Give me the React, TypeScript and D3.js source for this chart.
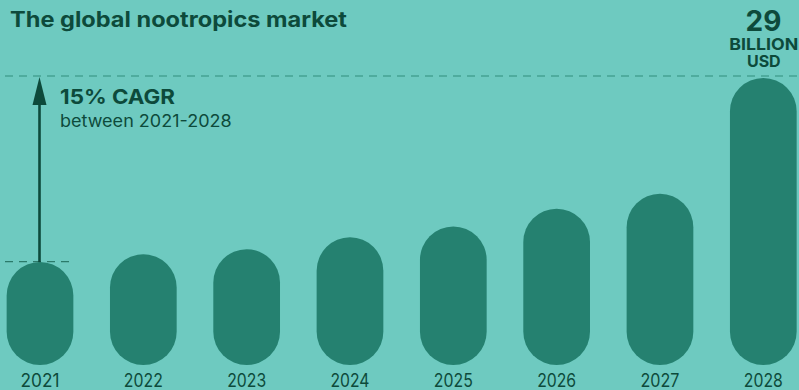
import React from "react";
import * as d3 from "d3";

const years = ["2021", "2022", "2023", "2024", "2025", "2026", "2027", "2028"];
const marketValues = [10.4, 11.2, 11.7, 12.9, 14.0, 15.8, 17.3, 29];
const titleText = "The global nootropics market";
const cagrText = "15% CAGR";
const cagrSub = "between 2021-2028";
const topValueLabel = "29";
const unitLines = ["BILLION", "USD"];

const W = 799;
const H = 390;
const BG = "#6ecac0";
const BAR = "#258170";
const DARK = "#0d4a3b";
const FONT = "Inter, 'DejaVu Sans', sans-serif";

export default function App() {
  const x = d3.scalePoint<string>().domain(years).range([40, 763.3]);
  const y = d3.scaleLinear().domain([0, 29]).range([365, 78]);
  const bw = 66.7;
  const maxV = d3.max(marketValues) as number;
  const topLine = y(maxV) - 2;
  const firstTop = y(marketValues[0]);
  const x0 = x(years[0]) as number;

  return (
    <svg
      width={W}
      height={H}
      style={{ position: "absolute", left: 0, top: 0, display: "block" }}
      fontFamily={FONT}
    >
      <rect x={0} y={0} width={W} height={H} fill={BG} />
      {/* top dashed reference line */}
      <line x1={5} x2={W} y1={topLine} y2={topLine} stroke="#45a293" strokeWidth={1.3} strokeDasharray="8 6" />
      {/* bars */}
      {years.map((yr, i) => {
        const cx = x(yr) as number;
        const top = y(marketValues[i]);
        return (
          <rect
            key={yr}
            x={cx - bw / 2}
            y={top}
            width={bw}
            height={y(0) - top}
            rx={bw / 2}
            ry={bw / 2}
            fill={BAR}
          />
        );
      })}
      {/* lower dashed line */}
      <line x1={5} x2={74} y1={firstTop - 0.5} y2={firstTop - 0.5} stroke="#2b7a6a" strokeWidth={1.2} strokeDasharray="8 6" />
      {/* arrow */}
      <line x1={x0 - 0.5} x2={x0 - 0.5} y1={firstTop} y2={topLine + 20} stroke={DARK} strokeWidth={2.6} />
      <path
        d={`M${x0 - 0.5},${topLine + 1} L${x0 - 7.5},${topLine + 29} L${x0 + 6.5},${topLine + 29} Z`}
        fill={DARK}
      />
      {/* year labels */}
      {years.map((yr) => (
        <text
          key={"l" + yr}
          x={x(yr) as number}
          y={386.5}
          textAnchor="middle"
          fontSize={18.5}
          fill={DARK}
          textLength={39}
          lengthAdjust="spacingAndGlyphs"
        >
          {yr}
        </text>
      ))}
      {/* title */}
      <text x={10} y={26.7} fontSize={21} fontWeight={700} fill={DARK} textLength={337} lengthAdjust="spacingAndGlyphs">
        {titleText}
      </text>
      {/* CAGR */}
      <text x={60} y={104.3} fontSize={20.5} fontWeight={700} fill={DARK} textLength={115} lengthAdjust="spacingAndGlyphs">
        {cagrText}
      </text>
      <text x={60} y={127.3} fontSize={17} fill={DARK} textLength={171.7} lengthAdjust="spacingAndGlyphs">
        {cagrSub}
      </text>
      {/* top value */}
      <text x={763.5} y={31} textAnchor="middle" fontSize={28} fontWeight={700} fill={DARK}>
        {topValueLabel}
      </text>
      <text x={763.8} y={50} textAnchor="middle" fontSize={16} fontWeight={700} fill={DARK} textLength={69} lengthAdjust="spacingAndGlyphs">
        {unitLines[0]}
      </text>
      <text x={763.8} y={66.7} textAnchor="middle" fontSize={16} fontWeight={700} fill={DARK}>
        {unitLines[1]}
      </text>
    </svg>
  );
}
